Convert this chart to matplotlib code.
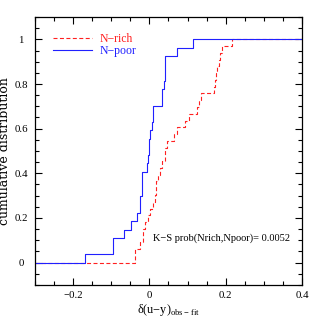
import numpy as np
import matplotlib
matplotlib.use("Agg")
import matplotlib.pyplot as plt
from matplotlib.ticker import MultipleLocator

plt.rcParams['font.family'] = ['Liberation Serif', 'DejaVu Serif']
plt.rcParams['mathtext.fontset'] = 'custom'
plt.rcParams['mathtext.rm'] = 'Liberation Serif'

# --- values (sorted samples of delta(u-y)) ---
n_poor = [-0.168, -0.096, -0.096, -0.067, -0.047, -0.032, -0.026, -0.024,
          -0.020, -0.019, -0.019, -0.006, -0.003, -0.001, 0.000, 0.002,
          0.006, 0.010, 0.010, 0.033, 0.034, 0.037, 0.041, 0.041, 0.041,
          0.071, 0.115]
n_rich = [-0.039, -0.039, -0.024, -0.017, -0.017, -0.011, -0.005, 0.001,
          0.010, 0.014, 0.016, 0.017, 0.022, 0.029, 0.033, 0.042, 0.042,
          0.046, 0.064, 0.073, 0.094, 0.103, 0.125, 0.130, 0.136, 0.168,
          0.173, 0.175, 0.178, 0.182, 0.184, 0.190, 0.217]
ks_prob = 0.0052
xlim = (-0.3, 0.4)
ylim = (-0.1, 1.1)


def cdf(vals):
    v = np.sort(vals)
    n = len(v)
    x = np.concatenate([[xlim[0]], v, [xlim[1]]])
    y = np.concatenate([[0.0], np.arange(1, n + 1) / n, [1.0]])
    return x, y


fig = plt.figure(figsize=(3.19, 3.19), dpi=100)
ax = fig.add_axes([0.1097, 0.1066, 0.837, 0.8401])

xr, yr = cdf(n_rich)
xp, yp = cdf(n_poor)
ax.plot(xr, yr, drawstyle='steps-post', color='#ff2020', lw=0.8,
        dashes=(3.6, 2.2), label='N\u2212rich')
ax.plot(xp, yp, drawstyle='steps-post', color='#2020ff', lw=0.8,
        label='N\u2212poor')

ax.set_xlim(*xlim)
ax.set_ylim(*ylim)
ax.xaxis.set_major_locator(MultipleLocator(0.2))
ax.xaxis.set_minor_locator(MultipleLocator(0.05))
ax.yaxis.set_major_locator(MultipleLocator(0.2))
ax.yaxis.set_minor_locator(MultipleLocator(0.05))
ax.xaxis.set_major_formatter(lambda v, p: '0' if abs(v) < 1e-9 else ('%g' % v).replace('-', '\u2212'))
ax.yaxis.set_major_formatter(lambda v, p: '%g' % v if v > -1e-9 else '')
ax.tick_params(which='both', direction='in', top=True, right=True,
               labelsize=7.8, width=0.8)
ax.tick_params(which='major', length=5)
ax.tick_params(axis='x', which='major', pad=4)
ax.tick_params(axis='y', which='major', pad=10)
ax.tick_params(which='minor', length=2.8)
for lab in ax.get_yticklabels():
    lab.set_horizontalalignment('center')
for s in ax.spines.values():
    s.set_linewidth(0.9)

ax.set_xlabel('\u03b4(u\u2212y)$_{\\rm obs\u2212fit}$', fontsize=8.8, labelpad=2)
ax.set_ylabel('cumulative distribution', fontsize=9, fontfamily='DejaVu Serif')
ax.yaxis.set_label_coords(-0.088, 0.5)

ax.text(0.01, 0.11, 'K\u2212S prob(Nrich,Npoor)= %.4f' % ks_prob,
        fontsize=7.5, va='center', ha='left')

leg = ax.legend(loc='upper left', bbox_to_anchor=(0.067, 0.94), frameon=False,
                fontsize=8.5, handlelength=3.3, handletextpad=0.65,
                labelspacing=0.0, borderpad=0, borderaxespad=0,
                labelcolor='linecolor')

fig.savefig('out.png', dpi=100)
